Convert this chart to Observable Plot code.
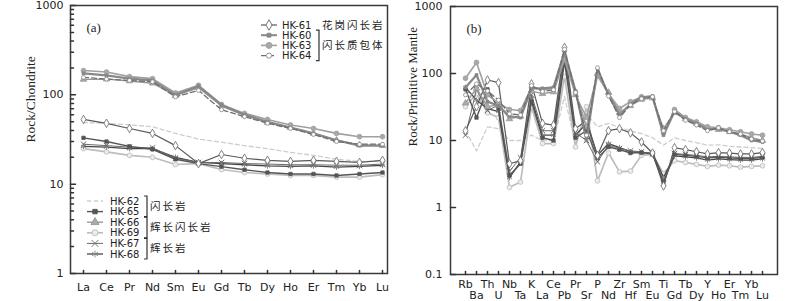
<!DOCTYPE html>
<html><head><meta charset="utf-8">
<script src="https://cdn.jsdelivr.net/npm/d3@7"></script>
<script src="https://cdn.jsdelivr.net/npm/@observablehq/plot@0.6"></script>
<style>
body{margin:0;background:#fff;}
#wrap{display:flex;width:800px;height:301px;overflow:hidden;}
#wrap svg{display:block;flex:none;}
</style></head><body><div id="wrap"></div>
<script>
// ---------- categories ----------
const REE = ["La","Ce","Pr","Nd","Sm","Eu","Gd","Tb","Dy","Ho","Er","Tm","Yb","Lu"];
const TRACE = ["Rb","Ba","Th","U","Nb","Ta","K","La","Ce","Pb","Pr","Sr","P","Nd","Zr","Hf","Sm","Eu","Ti","Gd","Tb","Dy","Y","Ho","Er","Tm","Yb","Lu"];
const SAMPLES = ["HK-61","HK-60","HK-63","HK-64","HK-62","HK-65","HK-66","HK-69","HK-67","HK-68"];
const Y_TICKS_A = [1, 10, 100, 1000];
const Y_TICKS_B = [0.1, 1, 10, 100, 1000];

// ---------- (a) chondrite-normalised REE ----------
const reeHK61 = [53, 48, 42, 37, 27, 17, 21.5, 19.5, 18.5, 18, 18.5, 18, 17.5, 18.5];
const reeHK60 = [174, 165, 152, 145, 100, 125, 77, 60, 50, 43, 37, 31, 27, 27];
const reeHK63 = [187, 180, 160, 152, 105, 128, 78, 62, 53, 46, 42, 37, 34, 34];
const reeHK64 = [157, 150, 145, 140, 95, 112, 68, 57, 48, 42, 36, 30, 28, 28];
const reeHK62 = [49, 48, 46, 44, 37, 32, 29.5, 27, 25, 22.7, 21, 19, 18, 18];
const reeHK65 = [33, 30, 26.5, 24.5, 19, 17, 15.7, 14.5, 13.5, 13, 13, 12.5, 13, 13.5];
const reeHK66 = [149, 150, 143, 135, 98, 120, 75, 59, 49, 43, 37, 31, 27.5, 27];
const reeHK69 = [25, 23, 21, 20, 16.6, 17, 14.6, 13.5, 13, 12.5, 12.5, 12, 12, 12.8];
const reeHK67 = [28, 27, 26, 25.5, 19.5, 17.5, 17.5, 17, 16.8, 16.5, 16.5, 16.3, 16.3, 16.8];
const reeHK68 = [26.5, 26, 25, 25, 20, 17.5, 17, 16.5, 16, 15.8, 16, 15.5, 15.8, 16.2];

// ---------- (b) primitive-mantle-normalised trace elements ----------
const trHK61 = [14, 32, 80, 73, 4.5, 5, 70, 18, 17, 245, 15, 20, 6, 14, 15, 13, 9.5, 6.5, 2.1, 7.8, 7.3, 6.8, 6.3, 6.6, 6.5, 6.3, 6.3, 6.6];
const trHK60 = [62, 95, 38, 33, 23, 22, 60, 60, 62, 210, 55, 10, 118, 48, 24, 35, 44, 46, 12, 27, 21, 18, 14.5, 15, 13.5, 12, 10, 9.5];
const trHK63 = [85, 146, 48, 36, 29, 28, 62, 57, 60, 170, 52, 16, 92, 50, 30, 38, 45, 44, 13, 29, 22, 19, 16, 15.5, 14.5, 13.5, 12.5, 12];
const trHK64 = [48, 70, 55, 40, 25, 24, 66, 54, 57, 230, 52, 12, 122, 46, 22, 34, 42, 45, 14, 27, 20, 17, 14, 15.5, 13.5, 12.5, 10.5, 9.8];
const trHK62 = [14, 7, 16, 15, 10, 10, 12, 10, 10, 45, 9, 25, 16, 18, 15.6, 14, 12.7, 11, 8.5, 11, 10, 9.3, 8.5, 8.6, 8.2, 8, 7.8, 7.6];
const trHK65 = [58, 22, 58, 30, 3, 4.5, 38, 11, 10, 150, 11, 14, 5.5, 8, 7.3, 6.5, 6.6, 6.3, 2.4, 6.2, 6, 5.8, 5.5, 5.6, 5.5, 5.4, 5.4, 5.6];
const trHK66 = [36, 60, 32, 34, 21, 23, 55, 50, 53, 160, 48, 22, 100, 52, 26, 33, 41, 43, 15, 26, 21, 18, 15.5, 14.5, 13.5, 12.5, 11, 10];
const trHK69 = [32, 50, 26, 22, 2.0, 2.4, 32, 9, 9, 90, 8, 32, 2.5, 6.5, 3.4, 3.5, 6, 6.2, 3.2, 5, 4.7, 4.4, 4.1, 4.3, 4.2, 4.0, 4.1, 4.2];
const trHK67 = [12, 58, 28, 34, 3.5, 5.5, 48, 14, 14, 200, 13, 10, 4.8, 8.5, 7.6, 7.0, 6.8, 6.3, 2.3, 6.4, 6.2, 6.0, 5.7, 5.8, 5.7, 5.6, 5.6, 5.8];
const trHK68 = [62, 40, 30, 27, 2.8, 4.8, 42, 12, 12, 180, 12, 18, 6, 9, 7.8, 6.8, 6.6, 6.5, 2.8, 5.9, 5.7, 5.5, 5.1, 5.3, 5.2, 5.1, 5.1, 5.3];

const reeBy = {"HK-61":reeHK61,"HK-60":reeHK60,"HK-63":reeHK63,"HK-64":reeHK64,"HK-62":reeHK62,"HK-65":reeHK65,"HK-66":reeHK66,"HK-69":reeHK69,"HK-67":reeHK67,"HK-68":reeHK68};
const trBy = {"HK-61":trHK61,"HK-60":trHK60,"HK-63":trHK63,"HK-64":trHK64,"HK-62":trHK62,"HK-65":trHK65,"HK-66":trHK66,"HK-69":trHK69,"HK-67":trHK67,"HK-68":trHK68};

// ---------- styles ----------
const STY = {
  "HK-61": {stroke:"#5a5a5a", w:1.2, symbol:"diamond", r:2.6, fill:"#fff", ms:"#666"},
  "HK-60": {stroke:"#888", w:2.2, symbol:"square", r:1.6, fill:"#888", ms:"#888"},
  "HK-63": {stroke:"#a0a0a0", w:1.6, symbol:"circle", r:2.4, fill:"#a8a8a8", ms:"#a0a0a0"},
  "HK-64": {stroke:"#707070", w:1.3, dash:"5,3", symbol:"circle", r:2.0, fill:"#fff", ms:"#888"},
  "HK-62": {stroke:"#cdcdcd", w:1.3, dash:"4,3"},
  "HK-65": {stroke:"#555", w:1.4, symbol:"square", r:1.9, fill:"#555", ms:"#555"},
  "HK-66": {stroke:"#999", w:1.4, symbol:"triangle", r:2.4, fill:"#aaa", ms:"#999"},
  "HK-69": {stroke:"#bdbdbd", w:1.7, symbol:"circle", r:2.4, fill:"#ececec", ms:"#bbb"},
  "HK-67": {stroke:"#6a6a6a", w:1.0, symbol:"times", r:2.6, fill:"none", ms:"#6a6a6a"},
  "HK-68": {stroke:"#454545", w:1.3, symbol:"asterisk", r:2.6, fill:"none", ms:"#888"}
};
const DRAW_ORDER = ["HK-62","HK-69","HK-68","HK-67","HK-65","HK-61","HK-66","HK-63","HK-60","HK-64"];

function seriesMarks(cats, by) {
  const marks = [];
  for (const s of DRAW_ORDER) {
    const st = STY[s];
    const rows = cats.map((c, i) => ({cat: c, v: by[s][i]}));
    marks.push(Plot.line(rows, {x: "cat", y: "v", stroke: st.stroke, strokeWidth: st.w, strokeDasharray: st.dash}));
    if (st.symbol) {
      const strokeSym = st.symbol === "times" || st.symbol === "asterisk";
      marks.push(Plot.dot(rows, {x: "cat", y: "v", symbol: st.symbol, r: st.r,
        fill: strokeSym ? "none" : st.fill, stroke: st.ms, strokeWidth: strokeSym ? 1 : 0.8}));
    }
  }
  return marks;
}

const tickRight = {draw(c, l) { c.moveTo(0, 0); c.lineTo(l, 0); }};
const tickUp = {draw(c, l) { c.moveTo(0, 0); c.lineTo(0, -l); }};

function minorTicks(lo, hi) {
  const out = [];
  for (let d = lo; d < hi; d *= 10) for (let k = 2; k <= 9; k++) out.push(d * k);
  return out;
}

const baseStyle = {fontFamily: "'DejaVu Sans', sans-serif", fontSize: "11px", color: "#222", background: "#fff", overflow: "visible"};

// ---------- panel (a) ----------
const plotA = Plot.plot({
  width: 400, height: 301,
  marginLeft: 70, marginRight: 13, marginTop: 5, marginBottom: 28,
  style: baseStyle,
  x: {type: "point", domain: REE, padding: 0, insetLeft: 12, insetRight: 5},
  y: {type: "log", domain: [1, 1000]},
  marks: [
    ...seriesMarks(REE, reeBy),
    Plot.frame({stroke: "#3a3a3a", strokeWidth: 1.5}),
    Plot.axisY(Y_TICKS_A, {tickSize: 0, tickPadding: 7, tickFormat: d => String(d), label: null, fill: "#222"}),
    Plot.axisX(REE, {tickSize: 0, tickPadding: 10, label: null, fill: "#222"}),
    Plot.vector(Y_TICKS_A, {y: d => d, frameAnchor: "left", length: 5, anchor: "start", shape: tickRight, stroke: "#333"}),
    Plot.vector(minorTicks(1, 1000), {y: d => d, frameAnchor: "left", length: 3, anchor: "start", shape: tickRight, stroke: "#333"}),
    Plot.vector(REE, {x: d => d, frameAnchor: "bottom", length: 3, anchor: "start", shape: tickUp, stroke: "#333"}),
    Plot.text(["Rock/Chondrite"], {text: d => d, frameAnchor: "left", dx: -40, dy: 3, rotate: -90, fontFamily: "'Liberation Serif', serif", fontSize: 13.5, fill: "#222"}),
    Plot.text(["(a)"], {text: d => d, frameAnchor: "top-left", dx: 16, dy: 17, fontFamily: "'Liberation Serif', serif", fontSize: 13, fill: "#222"})
  ]
});

// ---------- panel (b) ----------
const rowOne = TRACE.filter((d, i) => i % 2 === 0);
const rowTwo = TRACE.filter((d, i) => i % 2 === 1);
const plotB = Plot.plot({
  width: 400, height: 301,
  marginLeft: 50, marginRight: 23, marginTop: 6, marginBottom: 27,
  style: baseStyle,
  x: {type: "point", domain: TRACE, padding: 0, insetLeft: 7, insetRight: 7},
  y: {type: "log", domain: [0.1, 1000]},
  marks: [
    ...seriesMarks(TRACE, trBy),
    Plot.frame({stroke: "#3a3a3a", strokeWidth: 1.5}),
    Plot.axisY(Y_TICKS_B, {tickSize: 0, tickPadding: 8, tickFormat: d => String(d), label: null, fill: "#222"}),
    Plot.axisX(rowOne, {tickSize: 0, tickPadding: 6, label: null, fill: "#222"}),
    Plot.axisX(rowTwo, {tickSize: 0, tickPadding: 17, label: null, fill: "#222"}),
    Plot.vector(Y_TICKS_B, {y: d => d, frameAnchor: "left", length: 5, anchor: "start", shape: tickRight, stroke: "#333"}),
    Plot.vector(TRACE, {x: d => d, frameAnchor: "bottom", length: 3, anchor: "start", shape: tickUp, stroke: "#333"}),
    Plot.text(["Rock/Primitive Mantle"], {text: d => d, frameAnchor: "left", dx: -38, dy: 6, rotate: -90, fontFamily: "'Liberation Serif', serif", fontSize: 13, fill: "#222"}),
    Plot.text(["(b)"], {text: d => d, frameAnchor: "top-left", dx: 16, dy: 17, fontFamily: "'Liberation Serif', serif", fontSize: 13, fill: "#222"})
  ]
});

// ---------- legend (panel a) ----------
const LEG_TOP = ["HK-61","HK-60","HK-63","HK-64"];
const LEG_BOTTOM = ["HK-62","HK-65","HK-66","HK-69","HK-67","HK-68"];
const ROCK_TOP = [["花岗闪长岩", 0, 0], ["闪长质包体", 1, 3]];
const ROCK_BOTTOM = [["闪长岩", 0, 1], ["辉长闪长岩", 2, 3], ["辉长岩", 4, 5]];
const SYM = {circle: d3.symbolCircle, square: d3.symbolSquare, diamond: d3.symbolDiamond, triangle: d3.symbolTriangle, times: d3.symbolTimes, asterisk: d3.symbolAsterisk};

function drawLegend(svg, names, rocks, x0, y0, dy, textX, brX) {
  const g = svg.append("g").attr("text-anchor", "start");
  const cn = "'Noto Sans CJK SC', sans-serif";
  names.forEach((s, i) => {
    const st = STY[s], y = y0 + i * dy;
    g.append("line").attr("x1", x0).attr("x2", x0 + 16).attr("y1", y).attr("y2", y)
      .attr("stroke", st.stroke).attr("stroke-width", Math.min(st.w, 2)).attr("stroke-dasharray", st.dash || null);
    if (st.symbol) {
      const strokeSym = st.symbol === "times" || st.symbol === "asterisk";
      g.append("path").attr("transform", `translate(${x0 + 8},${y})`)
        .attr("d", d3.symbol(SYM[st.symbol], Math.PI * (st.r + 0.6) ** 2)())
        .attr("fill", strokeSym ? "none" : st.fill).attr("stroke", st.ms).attr("stroke-width", 0.9);
    }
    g.append("text").attr("x", textX).attr("y", y).attr("dy", "0.36em").attr("text-anchor", "start")
      .attr("font-family", "'DejaVu Sans', sans-serif").attr("font-size", 10).attr("fill", "#222").text(s);
  });
  rocks.forEach(([label, a, b]) => {
    const ya = y0 + a * dy, yb = y0 + b * dy;
    if (b > a) {
      g.append("path").attr("d", `M${brX - 3},${ya - 5}H${brX}V${yb + 5}H${brX - 3}`)
        .attr("fill", "none").attr("stroke", "#333").attr("stroke-width", 1.2);
    }
    g.append("text").attr("x", brX + 3).attr("y", (ya + yb) / 2).attr("dy", "0.36em").attr("text-anchor", "start")
      .attr("font-family", cn).attr("font-size", 10.5).attr("letter-spacing", "2px").attr("fill", "#222").text(label);
  });
}

const svgA = d3.select(plotA);
drawLegend(svgA, LEG_TOP, ROCK_TOP, 261, 25, 10.2, 282, 319);
drawLegend(svgA, LEG_BOTTOM, ROCK_BOTTOM, 87, 201, 10.6, 110, 147);

document.getElementById("wrap").append(plotA, plotB);
</script></body></html>
